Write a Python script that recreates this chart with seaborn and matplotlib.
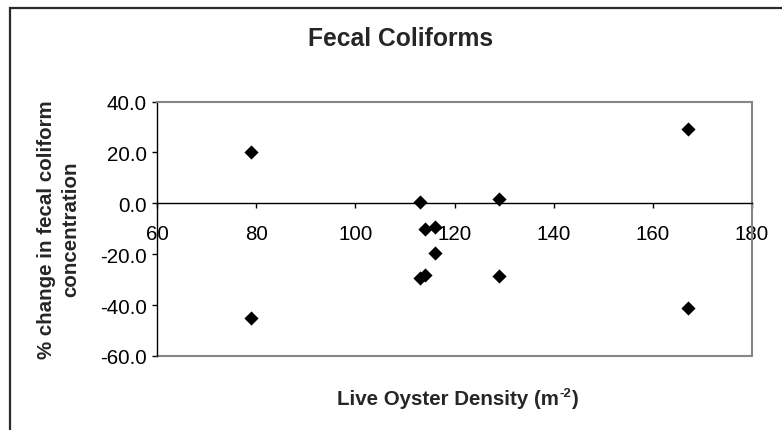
import matplotlib
matplotlib.use('Agg')
import matplotlib.pyplot as plt
import seaborn as sns
import pandas as pd
from matplotlib.patches import Rectangle
from matplotlib.transforms import offset_copy

# ---- data ----
density = [79, 79, 113, 114, 116, 116, 113, 114, 129, 129, 167, 167]
pct_change = [20.3, -45.0, 0.6, -10.0, -9.3, -19.6, -29.2, -28.3, 1.6, -28.6, 29.1, -41.3]
x_ticks = [60, 80, 100, 120, 140, 160, 180]
y_ticks = [-60, -40, -20, 0, 20, 40]
title = "Fecal Coliforms"
x_label_parts = ["Live Oyster Density (m", "-2", ")"]
y_label = "% change in fecal coliform\nconcentration"

sns.set_style("white")
plt.rcParams['font.family'] = ['Liberation Sans', 'DejaVu Sans']
plt.rcParams['axes.unicode_minus'] = False

W, H = 782, 431
fig = plt.figure(figsize=(W / 100, H / 100), dpi=100)
fig.patch.set_facecolor('white')

# outer chart border (only top/left visible)
fig.patches.append(Rectangle((9.5 / W, -0.5), 2.0, 0.5 + 1 - 8.5 / H,
                             transform=fig.transFigure, fill=False,
                             edgecolor='#2b2b2b', linewidth=1.6, clip_on=False))

L, R, T, B = 157, 752, 102.5, 357
ax = fig.add_axes([L / W, 1 - B / H, (R - L) / W, (B - T) / H])
ax.set_facecolor('white')

df = pd.DataFrame({'density': density, 'change': pct_change})
sns.scatterplot(data=df, x='density', y='change', marker='D', s=52,
                color='black', linewidth=0, ax=ax, zorder=5, clip_on=False,
                legend=False)

ax.set_xlim(60, 180)
ax.set_ylim(-60, 40)
ax.set_xticks(x_ticks)
ax.set_yticks(y_ticks)
ax.set_xticklabels([str(v) for v in x_ticks])
ax.set_yticklabels([f"{v:.1f}" for v in y_ticks])

gray = '#868686'
for s in ['top', 'right']:
    ax.spines[s].set_color(gray)
    ax.spines[s].set_linewidth(1.5)
ax.spines['left'].set_color('black')
ax.spines['left'].set_linewidth(1.0)
ax.spines['bottom'].set_position(('data', 0))
ax.spines['bottom'].set_color('black')
ax.spines['bottom'].set_linewidth(1.0)
ax.plot([0, 1], [0, 0], transform=ax.transAxes, color=gray, lw=1.5,
        clip_on=False, zorder=1)

ax.tick_params(axis='both', which='major', direction='out', length=3.6,
               width=1.0, color='black', labelsize=14.75, labelcolor='black')
ax.tick_params(axis='x', bottom=True, pad=11)
ax.tick_params(axis='y', left=True, pad=3.6)
ax.set_xlabel('')

ax.set_ylabel(y_label, fontsize=14.75, fontweight='bold', linespacing=1.35)
ax.yaxis.set_label_coords((58.5 - L) / (R - L), 0.5)
ax.yaxis.label.set_va('center')
ax.yaxis.label.set_multialignment('center')

fig.text(401 / W, 1 - 38.7 / H, title, fontsize=17.7, fontweight='bold',
         ha='center', va='center')

# x-axis title with a plain-hyphen superscript
renderer = fig.canvas.get_renderer()
yb = 1 - 405 / H
t1 = fig.text(0, yb, x_label_parts[0], fontsize=14.75, fontweight='bold',
              ha='left', va='baseline')
w1 = t1.get_window_extent(renderer).width
t2 = fig.text(0, yb, x_label_parts[1], fontsize=9.5, fontweight='bold',
              ha='left', va='baseline')
w2 = t2.get_window_extent(renderer).width
t3 = fig.text(0, yb, x_label_parts[2], fontsize=14.75, fontweight='bold',
              ha='left', va='baseline')
w3 = t3.get_window_extent(renderer).width
x0 = 457 - (w1 + w2 + w3) / 2
t1.set_x(x0 / W)
t2.set_x((x0 + w1 + 0.5) / W)
t2.set_y(yb + 8 / H)
t3.set_x((x0 + w1 + w2 + 1) / W)

fig.savefig('out.png', dpi=100, facecolor='white')
